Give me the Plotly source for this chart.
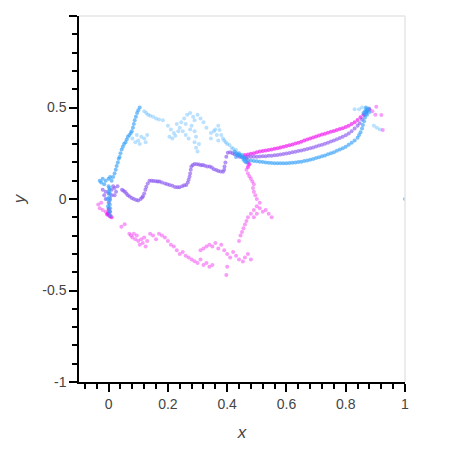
import plotly.graph_objects as go

# ---- data ----
blue_dense_x = [-0.03,-0.02,-0.01,0.0,0.01,-0.025,0.005,-0.015,0.0,0.003,0.004,0.002,0.003,0.004,0.005,0.003,0.006,0.002,0.0,-0.004,-0.002,
    0.015,0.02,0.024,0.027,0.031,0.034,0.037,0.04,0.044,0.048,0.052,0.057,0.061,0.065,0.07,0.075,0.078,0.082,0.085,0.088,0.092,0.096,0.1,0.105,
    0.425,0.43,0.435,0.44,0.445,0.45,0.455,0.46,0.44,0.45,0.455,0.46,0.465,0.43,
    0.47,0.48,0.49,0.5,0.51,0.52,0.53,0.54,0.55,0.56,0.57,0.58,0.59,0.6,0.61,0.62,0.63,0.64,0.65,0.66,0.67,0.68,0.69,0.7,
    0.71,0.72,0.73,0.74,0.75,0.76,0.77,0.78,0.79,0.8,0.81,0.82,0.83,0.84,0.845,0.85,0.855,0.858,0.862,0.865,0.868,0.87,
    0.86,0.865,0.87,0.875,0.88,0.872,0.878,0.868,1.0]
blue_dense_y = [0.10,0.11,0.10,0.11,0.10,0.09,0.12,0.08,0.07,0.05,0.03,0.01,-0.01,-0.03,-0.05,-0.07,-0.09,0.06,0.04,0.0,-0.04,
    0.12,0.14,0.16,0.18,0.2,0.22,0.23,0.25,0.27,0.285,0.3,0.31,0.325,0.34,0.35,0.36,0.37,0.39,0.41,0.43,0.45,0.47,0.485,0.5,
    0.26,0.25,0.245,0.24,0.235,0.23,0.225,0.22,0.25,0.24,0.215,0.205,0.2,0.23,
    0.212,0.21,0.208,0.206,0.204,0.202,0.2,0.198,0.197,0.196,0.195,0.195,0.196,0.196,0.197,0.198,0.2,0.202,0.204,0.207,0.21,0.214,0.219,0.224,
    0.228,0.233,0.238,0.244,0.25,0.256,0.263,0.27,0.277,0.286,0.296,0.308,0.32,0.335,0.35,0.365,0.385,0.405,0.425,0.445,0.465,0.48,
    0.47,0.48,0.49,0.485,0.475,0.46,0.495,0.5,0.0]

blue_faint_x = [0.08,0.09,0.1,0.11,0.12,0.13,0.125,0.095,0.105,
    0.12,0.127,0.133,0.14,0.15,0.16,0.17,0.183,
    0.2,0.21,0.22,0.205,0.23,0.24,0.25,0.215,0.225,0.235,0.26,0.27,0.245,0.255,0.265,0.275,0.285,0.29,0.3,0.31,0.32,0.28,0.29,0.295,0.29,0.295,0.3,0.305,0.33,0.26,0.275,
    0.345,0.355,0.36,0.37,0.374,0.38,0.386,0.39,0.395,0.4,0.408,0.415,0.42,0.43,0.345,0.365,0.37,
    0.83,0.845,0.855,0.905,0.915,0.895]
blue_faint_y = [0.33,0.31,0.32,0.34,0.33,0.35,0.31,0.35,0.30,
    0.48,0.47,0.46,0.455,0.45,0.44,0.435,0.43,
    0.4,0.38,0.36,0.34,0.41,0.39,0.37,0.33,0.345,0.37,0.35,0.33,0.42,0.44,0.46,0.47,0.45,0.43,0.46,0.44,0.42,0.4,0.37,0.34,0.31,0.28,0.26,0.3,0.39,0.41,0.38,
    0.36,0.37,0.38,0.4,0.377,0.35,0.33,0.32,0.31,0.3,0.295,0.28,0.275,0.268,0.33,0.35,0.32,
    0.49,0.49,0.5,0.39,0.38,0.4]

purple_x = [-0.02,-0.01,0.0,0.01,0.02,0.03,-0.01,0.0,0.005,-0.015,0.01,0.02,0.0,0.005,0.015,0.025,
    0.045,0.05,0.055,0.06,0.065,0.071,0.078,0.085,0.093,0.1,0.108,0.113,0.116,0.12,0.124,0.127,0.132,0.138,0.145,0.152,0.16,0.166,0.172,
    0.18,0.19,0.198,0.206,0.215,0.224,0.232,0.239,0.248,0.255,0.262,0.267,0.27,0.273,0.275,0.277,0.279,0.284,0.29,0.298,0.305,0.312,0.318,
    0.325,0.333,0.341,0.348,0.355,0.363,0.37,0.378,0.386,0.39,0.391,0.394,0.397,0.402,0.41,0.418,0.425,
    0.435,0.442,0.45,0.46,0.47,0.48,0.49,0.5,0.51,0.52,0.53,0.54,0.55,0.56,0.57,0.58,0.59,0.6,0.61,0.62,0.63,0.64,0.65,0.66,0.67,0.68,
    0.69,0.7,0.71,0.72,0.73,0.74,0.75,0.76,0.77,0.78,0.79,0.8,0.81,0.82,0.83,0.84,0.847,0.855,0.863,0.87]
purple_y = [0.05,0.04,0.03,0.05,0.06,0.07,0.0,-0.02,0.0,0.02,0.02,0.02,-0.05,-0.07,0.07,0.04,
    0.05,0.045,0.04,0.03,0.02,0.013,0.005,0.0,-0.005,-0.008,0.0,0.008,0.015,0.03,0.05,0.067,0.085,0.1,0.1,0.098,0.097,0.095,0.095,
    0.09,0.085,0.08,0.077,0.072,0.066,0.064,0.064,0.07,0.075,0.077,0.09,0.105,0.122,0.14,0.16,0.177,0.186,0.191,0.19,0.188,0.185,0.186,
    0.182,0.178,0.177,0.172,0.163,0.158,0.153,0.15,0.149,0.16,0.177,0.2,0.231,0.253,0.255,0.25,0.245,
    0.238,0.231,0.23,0.23,0.231,0.231,0.231,0.231,0.232,0.233,0.234,0.236,0.237,0.239,0.241,0.243,0.246,0.248,0.251,0.255,0.258,0.262,0.265,0.269,0.273,0.277,
    0.282,0.287,0.292,0.297,0.302,0.308,0.314,0.32,0.327,0.334,0.34,0.348,0.358,0.37,0.385,0.4,0.414,0.435,0.459,0.475]

magenta_loop_x = [-0.035,-0.03,-0.02,-0.01,-0.025,
    0.043,0.054,0.07,0.075,0.08,0.085,0.09,0.095,0.1,0.105,0.11,0.115,0.12,0.125,0.13,0.14,0.15,0.16,0.17,0.18,0.19,0.2,
    0.21,0.22,0.23,0.24,0.25,0.26,0.27,0.28,0.29,0.3,0.31,0.32,0.33,0.34,0.35,0.31,0.32,0.33,0.34,0.35,0.36,0.37,0.38,0.39,
    0.4,0.41,0.42,0.43,0.44,0.453,0.46,0.47,0.48,0.397,0.4,
    0.44,0.445,0.45,0.455,0.46,0.465,0.47,0.48,0.49,0.5,0.51,0.52,0.53,0.54,0.55,0.49,0.5,0.51,0.5,0.495,0.49,0.487,0.49,0.485,
    0.48,0.475,0.47,0.465,
    0.89,0.9,0.903,0.92,0.925]
magenta_loop_y = [-0.03,-0.05,-0.06,-0.07,-0.02,
    -0.151,-0.138,-0.19,-0.2,-0.21,-0.19,-0.22,-0.2,-0.23,-0.25,-0.22,-0.24,-0.21,-0.26,-0.23,-0.19,-0.2,-0.22,-0.19,-0.2,-0.21,-0.23,
    -0.25,-0.26,-0.28,-0.3,-0.29,-0.31,-0.32,-0.33,-0.34,-0.35,-0.33,-0.36,-0.35,-0.37,-0.36,-0.28,-0.27,-0.26,-0.25,-0.26,-0.24,-0.27,-0.25,-0.28,
    -0.3,-0.32,-0.29,-0.31,-0.33,-0.342,-0.32,-0.3,-0.33,-0.415,-0.37,
    -0.23,-0.2,-0.18,-0.16,-0.14,-0.12,-0.1,-0.08,-0.06,-0.04,-0.05,-0.07,-0.06,-0.08,-0.1,-0.1,-0.08,-0.02,0.0,0.02,0.04,0.06,0.08,0.095,
    0.11,0.125,0.14,0.16,
    0.48,0.46,0.504,0.459,0.377]

magenta_dense_x = [0.0,-0.003,0.002,0.005,-0.005,0.0,0.01,
    0.47,0.475,0.47,0.465,
    0.46,0.47,0.48,0.49,0.5,0.51,0.52,0.53,0.54,0.55,0.56,0.57,0.58,0.59,0.6,0.61,0.62,0.63,0.64,0.65,0.66,0.67,0.68,
    0.69,0.7,0.71,0.72,0.73,0.74,0.75,0.76,0.77,0.78,0.79,0.8,0.81,0.82,0.83,0.84,0.85,0.86,0.87,0.88]
magenta_dense_y = [-0.08,-0.078,-0.09,-0.095,-0.085,-0.06,-0.1,
    0.175,0.19,0.2,0.22,
    0.24,0.243,0.247,0.25,0.255,0.259,0.262,0.265,0.268,0.271,0.275,0.278,0.282,0.286,0.29,0.294,0.298,0.303,0.308,0.313,0.319,0.325,0.331,
    0.336,0.342,0.347,0.352,0.357,0.362,0.367,0.372,0.377,0.382,0.387,0.393,0.4,0.41,0.42,0.432,0.447,0.462,0.477,0.49]

x_ticks = [0, 0.2, 0.4, 0.6, 0.8, 1]
x_tick_text = ["0", "0.2", "0.4", "0.6", "0.8", "1"]
y_ticks = [-1, -0.5, 0, 0.5, 1]
y_tick_text = ["-1", "-0.5", "0", "0.5", "1"]

fig = go.Figure()
def add(x, y, color, op, size=4):
    fig.add_trace(go.Scatter(x=x, y=y, mode="markers",
                             marker=dict(color=color, size=size, opacity=op, line=dict(width=0)),
                             showlegend=False, hoverinfo="skip"))

add(blue_faint_x, blue_faint_y, "rgb(60,170,255)", 0.35)
add(magenta_loop_x, magenta_loop_y, "rgb(240,40,240)", 0.45)
add(magenta_dense_x, magenta_dense_y, "rgb(240,30,240)", 0.7)
add(purple_x, purple_y, "rgb(140,90,240)", 0.65)
add(blue_dense_x, blue_dense_y, "rgb(50,160,250)", 0.65)

font = dict(family="Liberation Sans, Arial, sans-serif", size=14, color="#444")
axis_common = dict(showline=True, linecolor="black", linewidth=1.5, ticks="outside",
                   ticklen=8, tickwidth=1.5, tickcolor="black", showgrid=False, zeroline=False,
                   tickfont=font, automargin=False)
fig.update_layout(
    width=434, height=434, margin=dict(l=71, r=37, t=8, b=60),
    plot_bgcolor="white", paper_bgcolor="white", font=font,
    xaxis=dict(range=[-0.1, 1], tickvals=x_ticks, ticktext=x_tick_text,
               minor=dict(dtick=0.04, tick0=0, ticks="outside", ticklen=5, tickwidth=1.5, tickcolor="black"),
               title=dict(text="<i>x</i>", font=dict(family="Liberation Sans, Arial", size=17, color="#444"), standoff=16),
               **axis_common),
    yaxis=dict(range=[-1, 1], tickvals=y_ticks, ticktext=y_tick_text,
               minor=dict(dtick=0.1, tick0=0, ticks="outside", ticklen=5, tickwidth=1.5, tickcolor="black"),
               title=dict(text="<i>y</i>", font=dict(family="Liberation Sans, Arial", size=17, color="#444"), standoff=12),
               **axis_common),
    shapes=[dict(type="line", xref="paper", yref="paper", x0=0, x1=1, y0=1, y1=1,
                 line=dict(color="#e6e6e6", width=1.5)),
            dict(type="line", xref="paper", yref="paper", x0=1, x1=1, y0=0, y1=1,
                 line=dict(color="#e6e6e6", width=1.5))],
)
fig.write_html("out.html")
